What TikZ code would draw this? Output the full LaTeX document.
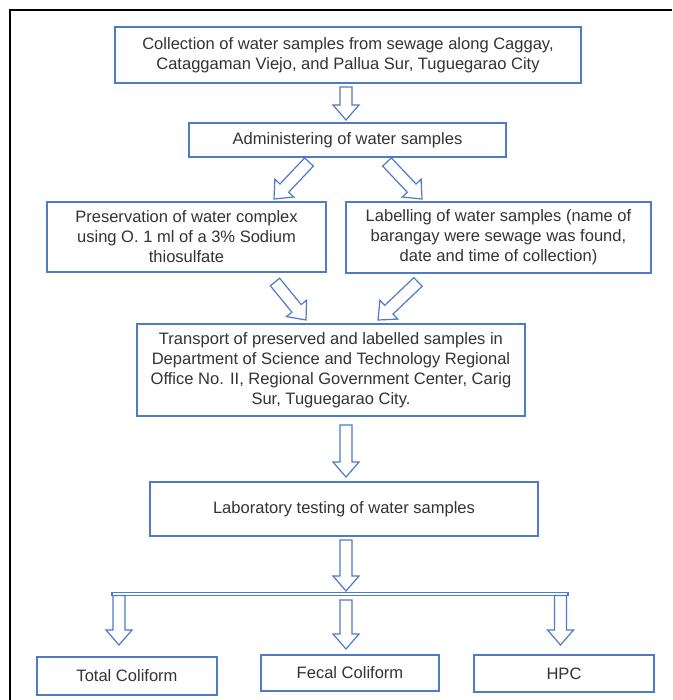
\documentclass[tikz,border=0pt]{standalone}
\usepackage{fontspec}
\setmainfont{Liberation Sans}
\usetikzlibrary{calc}
\definecolor{bblue}{HTML}{4F7AC7}
\definecolor{txt}{HTML}{333333}
\tikzset{
  box/.style={draw=bblue, line width=1.1pt, fill=white, align=center, text=txt,
    font=\fontsize{12.4}{15}\selectfont, inner sep=0pt},
  blockarr/.style={draw=bblue, line width=0.9pt, fill=white, line join=miter},
  frame/.style={line width=1.7pt, draw=black},
}
\newcommand\blockarrow[2]{%
  \path ($(#2)!11.25pt!(#1)$) coordinate (bah);
  \draw[blockarr] ($(#1)!4.5pt!90:(#2)$) -- ($(bah)!4.5pt!90:(#2)$)
    -- ($(bah)!9.75pt!90:(#2)$) -- (#2) -- ($(bah)!9.75pt!-90:(#2)$)
    -- ($(bah)!4.5pt!-90:(#2)$) -- ($(#1)!4.5pt!-90:(#2)$) -- cycle;}
\begin{document}
\begin{tikzpicture}[x=0.75pt,y=-0.75pt]
\useasboundingbox (0,0) rectangle (672,700);
\coordinate (fa) at (10,700);
\coordinate (fb) at (10,10);
\coordinate (fc) at (672,10);
\draw[frame] (fa) -- (fb) -- (fc);

\node[box, minimum width=349.5pt, minimum height=42pt] (b1) at (348,55)
  {Collection of water samples from sewage along Caggay,\\Cataggaman Viejo, and Pallua Sur, Tuguegarao City};
\node[box, minimum width=237.75pt, minimum height=25.5pt] (b2) at (347.5,140)
  {Administering of water samples};
\node[box, minimum width=209.25pt, minimum height=52.5pt] (b3) at (186.5,237)
  {Preservation of water complex\\using O. 1 ml of a 3\% Sodium\\thiosulfate};
\node[box, minimum width=228.75pt, minimum height=53.25pt] (b4) at (498.5,237.5)
  {Labelling of water samples (name of\\barangay were sewage was found,\\date and time of collection)};
\node[box, minimum width=291pt, minimum height=69pt] (b5) at (331,370)
  {Transport of preserved and labelled samples in\\Department of Science and Technology Regional\\Office No. II, Regional Government Center, Carig\\Sur, Tuguegarao City.};
\node[box, minimum width=291pt, minimum height=40.5pt] (b6) at (344,509)
  {Laboratory testing of water samples};
\node[box, minimum width=135pt, minimum height=28.5pt] (r1) at (127,676)
  {Total Coliform};
\node[box, minimum width=133.5pt, minimum height=27pt] (r2) at (350,673)
  {Fecal Coliform};
\node[box, minimum width=135pt, minimum height=27.75pt] (r3) at (564,673.5)
  {HPC};

% arrow end points
\coordinate (a1s) at (346,87);  \coordinate (a1e) at (346,120);
\coordinate (a2s) at (309,162); \coordinate (a2e) at (274,199);
\coordinate (a3s) at (387,162); \coordinate (a3e) at (422,199);
\coordinate (a4s) at (275,282); \coordinate (a4e) at (306,320);
\coordinate (a5s) at (418,282); \coordinate (a5e) at (378,320);
\coordinate (a6s) at (346,425); \coordinate (a6e) at (346,477);
\coordinate (a7s) at (346,540); \coordinate (a7e) at (346,591);
\coordinate (a8s) at (119,595.5); \coordinate (a8e) at (119,645);
\coordinate (a9s) at (346,600); \coordinate (a9e) at (346,649);
\coordinate (a10s) at (560.5,595.5); \coordinate (a10e) at (560.5,645);
\coordinate (barl) at (112,592.5); \coordinate (barr) at (568,595.5);

\blockarrow{a1s}{a1e}
\blockarrow{a2s}{a2e}
\blockarrow{a3s}{a3e}
\blockarrow{a4s}{a4e}
\blockarrow{a5s}{a5e}
\blockarrow{a6s}{a6e}
\blockarrow{a7s}{a7e}
\draw[blockarr] (barl) rectangle (barr);
\blockarrow{a8s}{a8e}
\blockarrow{a9s}{a9e}
\blockarrow{a10s}{a10e}
\end{tikzpicture}
\end{document}
